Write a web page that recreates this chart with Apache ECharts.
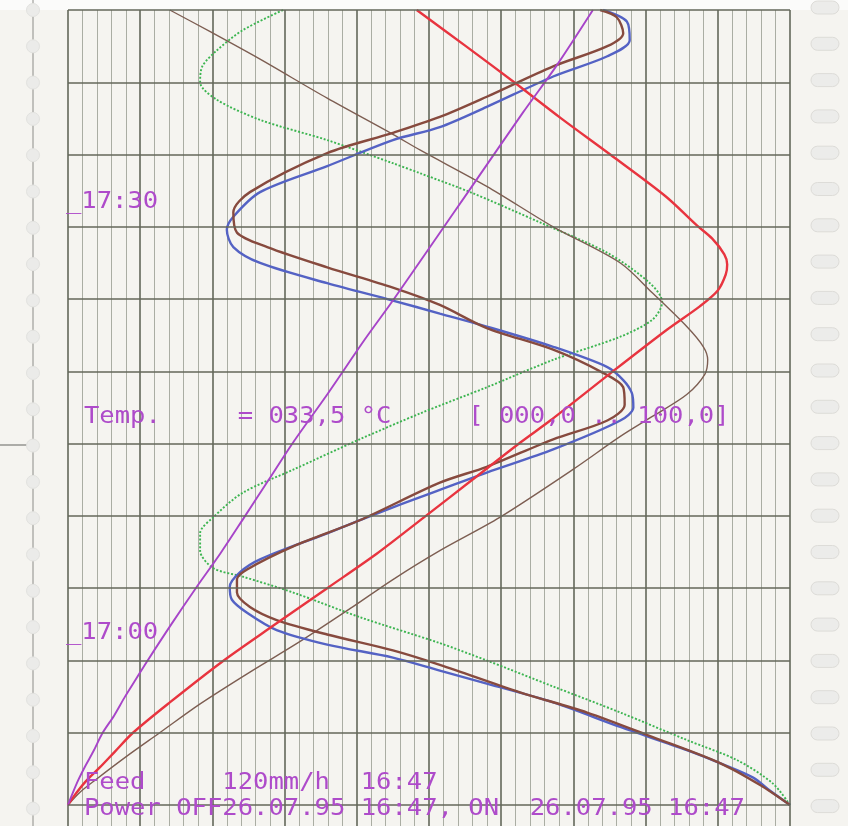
<!DOCTYPE html>
<html>
<head>
<meta charset="utf-8">
<title>Recorder chart</title>
<script src="https://cdn.jsdelivr.net/npm/echarts/dist/echarts.min.js"></script>
<style>
  html, body { margin: 0; padding: 0; background: #f5f4f0; }
  #main { width: 848px; height: 826px; }
</style>
</head>
<body>
<div id="main"></div>
<script>
// value axis 0..100 (%), time axis in minutes from 16:47 (paper moves 120 mm/h)
var hourLines = [0, 5, 10, 15, 20, 25, 30, 35, 40, 45, 50, 55]

// traces: [value, minutes]
var purpleTrace = [[0,0],[0.55,0.7],[1.4,1.7],[2.4,2.7],[3.5,3.7],[4.8,5.0],[6.4,6.2],[7.9,7.5],[9.4,8.7],[10.9,9.9],[14.3,12.5],[17.7,15.0],[21.1,17.4],[24.4,19.9],[27.8,22.5],[31.2,25.1],[35.9,28.4],[41.1,32.2],[45.0,34.9],[51.1,39.3],[55.4,42.4],[63.0,47.9],[67.6,51.1],[72.7,55.0]]

var redTrace = [[0,0],[0.8,0.6],[2.4,1.6],[4.4,2.6],[6.5,3.7],[9.0,5.0],[14.1,7.1],[21.3,9.9],[28.7,12.5],[35.9,15.0],[42.8,17.4],[49.3,19.9],[56.0,22.5],[62.7,25.1],[66.8,26.6],[75.2,29.9],[83.0,32.9],[87.5,34.5],[90.0,35.6],[91.1,36.7],[91.3,37.4],[90.9,38.1],[89.2,39.2],[87.1,40.1],[82.8,42.1],[75.1,45.0],[68.3,47.5],[61.8,50.0],[55.1,52.5],[48.3,55.0]]

var greenTrace = [[100,0],[97.6,1.5],[92.7,3.1],[85.7,4.5],[76.5,6.4],[67.2,8.2],[58.0,10.0],[51.5,11.2],[40.4,13.0],[31.2,14.7],[24.2,15.8],[20.1,16.4],[18.3,17.6],[18.3,18.8],[20.1,19.9],[24.2,21.6],[31.2,23.2],[40.4,25.3],[48.8,27.1],[58.0,28.9],[67.2,30.8],[76.5,32.4],[81.0,33.6],[82.3,34.8],[80.6,36.1],[74.7,38.2],[65.4,40.3],[55.7,42.4],[48.8,43.7],[45.0,44.4],[35.9,46.0],[26.6,47.4],[20.6,48.8],[18.3,50.0],[18.6,51.1],[20.6,52.2],[24.2,53.6],[29.8,55.0]]

var blueTrace = [[100,0],[97.2,1.0],[94.9,1.9],[90.3,2.9],[85.7,3.8],[76.5,5.4],[67.2,7.1],[58.0,8.4],[51.5,9.3],[45.0,10.2],[35.9,11.1],[28.9,12.1],[24.8,13.3],[22.7,14.2],[22.4,15.1],[23.8,16.1],[26.6,17.0],[35.9,18.8],[45.0,20.6],[51.5,21.8],[58.0,23.0],[67.2,24.6],[76.5,26.6],[78.3,27.5],[78.1,28.5],[76.9,29.4],[74.7,30.3],[67.2,31.7],[58.0,33.1],[51.5,34.0],[45.0,34.9],[35.9,36.1],[26.6,37.5],[22.9,38.6],[22.0,39.8],[22.9,40.7],[26.6,42.4],[35.9,44.2],[45.0,46.0],[51.5,46.9],[58.0,48.3],[67.2,50.4],[74.7,51.8],[77.8,52.9],[77.4,54.2],[74.1,55.0]]

var brownTrace = [[100,0],[95.8,1.4],[90.3,2.9],[81.0,4.7],[71.9,6.4],[62.6,7.8],[51.5,9.7],[45.0,10.7],[35.9,11.8],[28.9,12.8],[25.2,13.7],[23.4,14.7],[23.4,15.6],[24.8,16.3],[31.2,17.9],[40.4,19.7],[51.5,22.3],[58.0,23.4],[67.2,25.3],[74.7,26.6],[77.1,27.7],[76.9,28.9],[74.1,29.9],[67.2,31.5],[58.0,33.0],[51.5,34.6],[45.0,35.8],[35.9,37.2],[27.6,38.6],[23.4,39.6],[22.9,41.0],[25.2,42.4],[35.9,45.1],[45.0,46.5],[51.5,47.6],[58.0,49.0],[67.2,51.1],[74.7,52.5],[76.9,53.4],[76.0,54.5],[73.7,55.0]]

var greyBrownTrace = [[0,0],[1.7,0.9],[3.7,1.7],[8.2,3.4],[12.7,5.0],[18.3,7.0],[25.2,9.2],[32.1,11.3],[39.1,13.6],[45.0,15.6],[51.5,17.6],[59.8,19.9],[69.9,23.2],[76.5,25.5],[81.0,26.9],[85.7,28.4],[88.2,29.8],[88.6,30.8],[88.0,31.7],[85.7,33.1],[81.0,35.4],[76.5,37.5],[67.2,40.0],[58.0,42.8],[48.8,45.3],[45.0,46.4],[35.9,48.9],[26.6,51.6],[19.7,53.5],[14.1,55.0]]

// printed texts
var mark1730 = '_17:30'
var mark1700 = '_17:00'
var tempLine = 'Temp.     = 033,5 °C     [ 000,0 .. 100,0]'
var feedLine = 'Feed     120mm/h  16:47'
var powerLine = 'Power OFF26.07.95 16:47, ON  26.07.95 16:47'

var chart = echarts.init(document.getElementById('main'))

var inkFont = '23px "DejaVu Sans Mono", "Liberation Mono", monospace'
var ink = '#ae4bca'

function printText(str, x, y) {
  return {
    type: 'text',
    x: x,
    y: y,
    scaleX: 1.11,
    z: 50,
    style: { text: str, font: inkFont, fill: ink, textVerticalAlign: 'middle' },
  }
}

var graphics = [
  { type: 'rect', shape: { x: 0, y: 0, width: 848, height: 10 }, style: { fill: '#fbfbfa' }, z: -1 },
  { type: 'line', shape: { x1: 33, y1: 0, x2: 33, y2: 826 }, style: { stroke: '#8c8c88', lineWidth: 1 }, z: 1 },
  { type: 'line', shape: { x1: 0, y1: 445, x2: 28, y2: 445 }, style: { stroke: '#7c7c78', lineWidth: 1.2 }, z: 1 },
]
// perforations of the paper strip
for (var i = 0; i < 23; i++) {
  graphics.push({
    type: 'circle',
    shape: { cx: 33, cy: 10 + i * 36.3, r: 6.5 },
    style: { fill: '#ebebe9', stroke: '#e2e2df', lineWidth: 1 },
    z: 2,
  })
  graphics.push({
    type: 'rect',
    shape: { x: 811, y: 1 + i * 36.3, width: 28, height: 13, r: 6.5 },
    style: { fill: '#ececea', stroke: '#dddcd8', lineWidth: 1 },
    z: 2,
  })
}
graphics.push(printText(mark1730, 66, 202))
graphics.push(printText(mark1700, 66, 633))
graphics.push(printText(tempLine, 84, 417))
graphics.push(printText(feedLine, 84, 783))
graphics.push(printText(powerLine, 84, 809))

function trace(name, data, color, width, type) {
  return {
    name: name,
    type: 'line',
    data: data,
    showSymbol: false,
    smooth: 0.3,
    silent: true,
    z: 3,
    lineStyle: { color: color, width: width, type: type || 'solid' },
  }
}

var option = {
  backgroundColor: '#f5f4f0',
  animation: false,
  grid: { left: 68, top: 10, width: 722, height: 816 },
  xAxis: {
    type: 'value',
    min: 0,
    max: 100,
    interval: 10,
    axisLine: { show: false },
    axisTick: { show: false },
    axisLabel: { show: false },
    splitLine: { show: true, lineStyle: { color: '#63675a', width: 1.6 } },
    minorTick: { show: false, splitNumber: 5 },
    minorSplitLine: { show: true, lineStyle: { color: '#979a8f', width: 0.8 } },
  },
  yAxis: {
    type: 'value',
    min: -1.45,
    max: 55,
    axisLine: { show: false },
    axisTick: { show: false },
    axisLabel: { show: false },
    splitLine: { show: false },
  },
  graphic: graphics,
  series: [
    {
      type: 'line',
      data: [],
      silent: true,
      markLine: {
        symbol: 'none',
        silent: true,
        label: { show: false },
        lineStyle: { color: '#63675a', width: 1.6, type: 'solid' },
        data: hourLines.map(function(v) { return { yAxis: v } }),
      },
    },
    trace('green', greenTrace, '#3db551', 1.9, [2, 1.8]),
    trace('grey brown', greyBrownTrace, '#7d5e52', 1.4),
    trace('blue', blueTrace, '#5462c4', 2.4),
    trace('brown', brownTrace, '#874a3e', 2.4),
    trace('red', redTrace, '#e8343f', 2.4),
    trace('purple', purpleTrace, '#a744c9', 1.9),
  ],
}

chart.setOption(option)
</script>
</body>
</html>
